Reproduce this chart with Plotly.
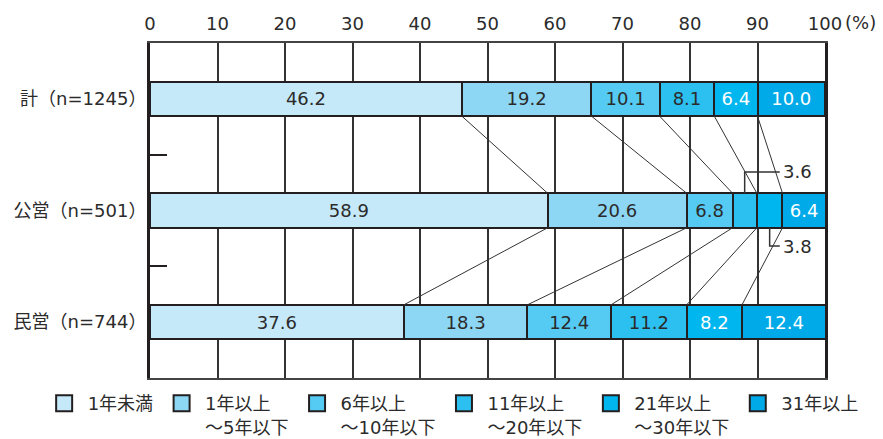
import plotly.graph_objects as go

# Categories (top to bottom) and duration bands
groups = ["計（n=1245）", "公営（n=501）", "民営（n=744）"]
bands = ["1年未満", "1年以上<br>～5年以下", "6年以上<br>～10年以下",
         "11年以上<br>～20年以下", "21年以上<br>～30年以下", "31年以上"]

# Share (%) per band, one list per group
total = [46.2, 19.2, 10.1, 8.1, 6.4, 10.0]
public = [58.9, 20.6, 6.8, 3.6, 3.8, 6.4]
private = [37.6, 18.3, 12.4, 11.2, 8.2, 12.4]

colors = ["#C6E9F9", "#8DD7F5", "#55CAF3", "#2CC0F0", "#00B6EE", "#00AAE8"]
text_colors = ["#2b2b2b", "#2b2b2b", "#2b2b2b", "#2b2b2b", "#ffffff", "#ffffff"]

# Values too narrow to label inside their segment (group index, band index)
outside_labels = {(1, 3), (1, 4)}

rows = [total, public, private]
BAR_W = 0.31
INK = "#231F20"
TXT = "#2b2b2b"
FONT = "DejaVu Sans, Noto Sans CJK JP"
FS = 18

fig = go.Figure()

for j, band in enumerate(bands):
    xs = [rows[i][j] for i in range(len(groups))]
    txt = ["" if (i, j) in outside_labels else f"{rows[i][j]:.1f}" for i in range(len(groups))]
    fig.add_trace(go.Bar(
        x=xs, y=groups, orientation="h", width=BAR_W,
        marker=dict(color=colors[j], line=dict(color=INK, width=2)),
        text=txt, textposition="inside", insidetextanchor="middle",
        textangle=0, textfont=dict(color=text_colors[j], size=FS, family=FONT),
        showlegend=False, hoverinfo="skip",
    ))
    # legend swatch
    fig.add_trace(go.Scatter(
        x=[None], y=[None], mode="markers", name=band,
        marker=dict(symbol="square", size=16, color=colors[j],
                    line=dict(color=INK, width=2)),
    ))

# Connector lines between cumulative segment boundaries of adjacent bars
def cumulative(vals):
    out, s = [], 0.0
    for v in vals:
        s += v
        out.append(s)
    return out

shapes = []
for i in range(len(rows) - 1):
    upper = cumulative(rows[i])[:-1]
    lower = cumulative(rows[i + 1])[:-1]
    for a, b in zip(upper, lower):
        shapes.append(dict(type="line", xref="x", yref="y",
                           x0=a, y0=i + BAR_W / 2, x1=b, y1=i + 1 - BAR_W / 2,
                           line=dict(color="#333333", width=1)))

# Leader brackets for the narrow public-sector segments
pub_cum = cumulative(public)
label_x = 93.3
for (gi, bj), up in zip(sorted(outside_labels), [True, False]):
    cx = pub_cum[bj] - public[bj] / 2
    if up:
        y_edge, y_tip = gi - BAR_W / 2, gi - 0.345
    else:
        y_edge, y_tip = gi + BAR_W / 2, gi + 0.318
    shapes.append(dict(type="path", xref="x", yref="y",
                       path=f"M{cx},{y_edge} L{cx},{y_tip} L{label_x},{y_tip}",
                       line=dict(color="#333333", width=1.5)))
    fig.add_annotation(x=label_x, y=y_tip, xref="x", yref="y",
                       text=f"{rows[gi][bj]:.1f}", showarrow=False,
                       xanchor="left", yanchor="middle", xshift=1,
                       font=dict(size=FS, color=TXT, family=FONT))

fig.add_annotation(x=1, y=1, xref="paper", yref="paper", text="(%)",
                   showarrow=False, xanchor="left", yanchor="middle",
                   xshift=18, yshift=21,
                   font=dict(size=FS, color=TXT, family=FONT))

fig.update_layout(
    barmode="stack",
    width=883, height=439,
    margin=dict(l=150, r=58, t=43, b=61, autoexpand=False),
    paper_bgcolor="white", plot_bgcolor="white",
    font=dict(family=FONT, size=FS, color=TXT),
    shapes=shapes,
    showlegend=True,
    legend=dict(orientation="h", x=-0.162, y=-0.021, xanchor="left", yanchor="top",
                valign="top", traceorder="normal",
                font=dict(size=FS, family=FONT, color=TXT),
                itemwidth=37, tracegroupgap=0),
    xaxis=dict(range=[0, 100], dtick=10, side="top", showgrid=True,
               gridcolor="#333333", gridwidth=2, zeroline=False,
               showline=True, linecolor="#444444", linewidth=2, mirror=True,
               ticks="", ticklabelstandoff=4,
               tickfont=dict(size=FS, family=FONT, color=TXT)),
    yaxis=dict(range=[2.5, -0.5], type="category", showgrid=False,
               showline=True, linecolor=INK, linewidth=3, mirror=True,
               ticks="inside", tickson="boundaries", ticklen=17, tickwidth=2,
               tickcolor=INK, ticklabelstandoff=-3,
               tickfont=dict(size=FS, family=FONT, color=TXT)),
    uniformtext=dict(minsize=FS, mode="show"),
)

fig.write_html("out.html")
